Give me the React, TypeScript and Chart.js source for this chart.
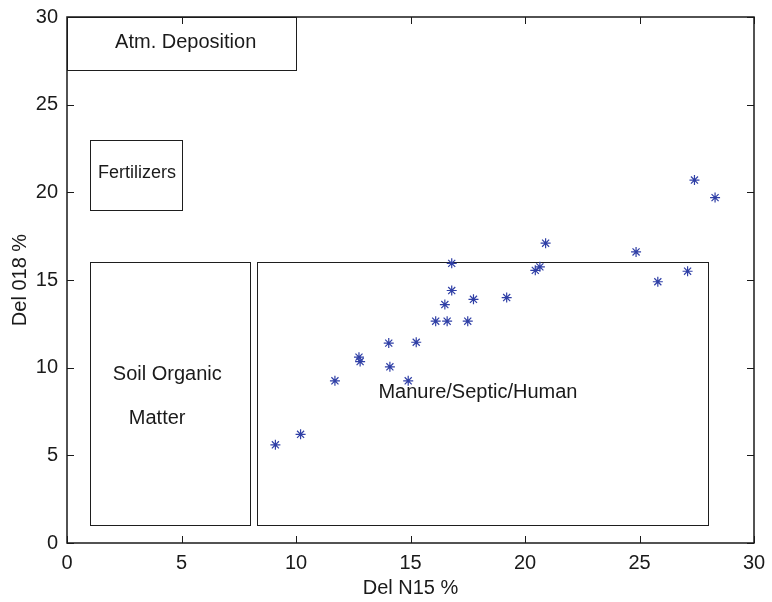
import { useEffect, useRef } from "react";
import { Chart, registerables } from "chart.js";

Chart.register(...registerables);

// Scatter data (Del N15 %, Del O18 %)
const delN15 = [9.1, 10.2, 11.7, 12.75, 12.8, 14.05, 14.1, 14.9, 15.25, 16.1, 16.6, 16.5, 16.8, 16.8, 17.5, 17.75, 19.2, 20.9, 20.65, 20.45, 24.85, 25.8, 27.1, 27.4, 28.3];
const delO18 = [5.6, 6.2, 9.25, 10.6, 10.35, 11.4, 10.05, 9.25, 11.45, 12.65, 12.65, 13.6, 14.4, 15.95, 12.65, 13.9, 14.0, 17.1, 15.75, 15.55, 16.6, 14.9, 15.5, 20.7, 19.7];

// Axis ticks
const xTickValues = [0, 5, 10, 15, 20, 25, 30];
const yTickValues = [0, 5, 10, 15, 20, 25, 30];

// Source region boxes (data units)
const boxNames = ["Atm. Deposition", "Fertilizers", "Soil Organic Matter", "Manure/Septic/Human"];
const boxX0 = [0, 1, 1, 8.3];
const boxX1 = [10, 5, 8, 28];
const boxY0 = [27, 19, 1, 1];
const boxY1 = [30, 23, 16, 16];

// Text labels (left-aligned anchor, data units)
const labelText = ["Atm. Deposition", "Fertilizers", "Soil Organic", "Matter", "Manure/Septic/Human"];
const labelX = [2.1, 1.35, 2.0, 2.7, 13.6];
const labelY = [28.55, 21.1, 9.6, 7.1, 8.57];

const FONT = "'Liberation Sans', Arial, Helvetica, sans-serif";
const labelFontPx = [20, 18, 20, 20, 20];

const annotPlugin = {
  id: "annot",
  beforeDatasetsDraw(chart: any) {
    const { ctx, scales } = chart;
    const xs = scales.x;
    const ys = scales.y;
    ctx.save();
    ctx.strokeStyle = "#1e1e1e";
    ctx.lineWidth = 1;
    for (let i = 0; i < boxNames.length; i++) {
      const x0 = Math.round(xs.getPixelForValue(boxX0[i])) + 0.5;
      const x1 = Math.round(xs.getPixelForValue(boxX1[i])) + 0.5;
      const y0 = Math.round(ys.getPixelForValue(boxY0[i])) + 0.5;
      const y1 = Math.round(ys.getPixelForValue(boxY1[i])) + 0.5;
      ctx.strokeRect(Math.min(x0, x1), Math.min(y0, y1), Math.abs(x1 - x0), Math.abs(y1 - y0));
    }
    ctx.fillStyle = "#1a1a1a";
    ctx.textAlign = "left";
    ctx.textBaseline = "middle";
    for (let i = 0; i < labelText.length; i++) {
      ctx.font = `${labelFontPx[i]}px ${FONT}`;
      ctx.fillText(labelText[i], xs.getPixelForValue(labelX[i]), ys.getPixelForValue(labelY[i]));
    }
    ctx.restore();
  },
  afterDraw(chart: any) {
    const { ctx, chartArea, scales } = chart;
    const { left, right, top, bottom } = chartArea;
    ctx.save();
    ctx.strokeStyle = "#1a1a1a";
    ctx.lineWidth = 1;
    const tl = 7;
    ctx.beginPath();
    for (const v of xTickValues) {
      const px = Math.round(scales.x.getPixelForValue(v)) + 0.5;
      ctx.moveTo(px, bottom);
      ctx.lineTo(px, bottom - tl);
      ctx.moveTo(px, top);
      ctx.lineTo(px, top + tl);
    }
    for (const v of yTickValues) {
      const py = Math.round(scales.y.getPixelForValue(v)) + 0.5;
      ctx.moveTo(left, py);
      ctx.lineTo(left + tl, py);
      ctx.moveTo(right, py);
      ctx.lineTo(right - tl, py);
    }
    ctx.stroke();
    ctx.lineWidth = 1.5;
    ctx.strokeRect(left, top, right - left, bottom - top);
    ctx.restore();
  },
};

export default function App() {
  const canvasRef = useRef<HTMLCanvasElement | null>(null);

  useEffect(() => {
    const canvas = canvasRef.current;
    if (!canvas) return;
    Chart.defaults.font.family = FONT;
    const points = delN15.map((x, i) => ({ x, y: delO18[i] }));
    const chart = new Chart(canvas, {
      type: "scatter",
      data: {
        datasets: [
          {
            label: "samples",
            data: points,
            pointStyle: "star",
            pointRadius: 5,
            borderColor: "#2f3fa6",
            backgroundColor: "#2f3fa6",
            borderWidth: 1.2,
          },
        ],
      },
      options: {
        animation: false,
        responsive: false,
        maintainAspectRatio: false,
        layout: { padding: { top: 17, right: 18, left: 0, bottom: 0 } },
        plugins: {
          legend: { display: false },
          tooltip: { enabled: false },
        },
        scales: {
          x: {
            type: "linear",
            min: 0,
            max: 30,
            afterFit: (s: any) => {
              s.height = 59;
              s.paddingLeft = 0;
              s.paddingRight = 0;
            },
            afterBuildTicks: (s: any) => {
              s.ticks = xTickValues.map((v) => ({ value: v }));
            },
            grid: { display: false, drawTicks: false },
            border: { display: false },
            ticks: { color: "#1a1a1a", font: { size: 20 }, padding: 8, maxRotation: 0 },
            title: {
              display: true,
              text: "Del N15 %",
              color: "#1a1a1a",
              font: { size: 20 },
              padding: { top: 0, bottom: 2 },
            },
          },
          y: {
            type: "linear",
            min: 0,
            max: 30,
            afterFit: (s: any) => {
              s.width = 67;
              s.paddingTop = 0;
              s.paddingBottom = 0;
            },
            afterBuildTicks: (s: any) => {
              s.ticks = yTickValues.map((v) => ({ value: v }));
            },
            grid: { display: false, drawTicks: false },
            border: { display: false },
            ticks: { color: "#1a1a1a", font: { size: 20 }, padding: 9 },
            title: {
              display: true,
              text: "Del 018 %",
              color: "#1a1a1a",
              font: { size: 20 },
              padding: { top: 8, bottom: 0 },
            },
          },
        },
      },
      plugins: [annotPlugin],
    });
    return () => chart.destroy();
  }, []);

  return (
    <div style={{ position: "absolute", left: 0, top: 0, width: 772, height: 602, background: "#fff" }}>
      <canvas ref={canvasRef} width={772} height={602} style={{ display: "block" }} />
    </div>
  );
}
